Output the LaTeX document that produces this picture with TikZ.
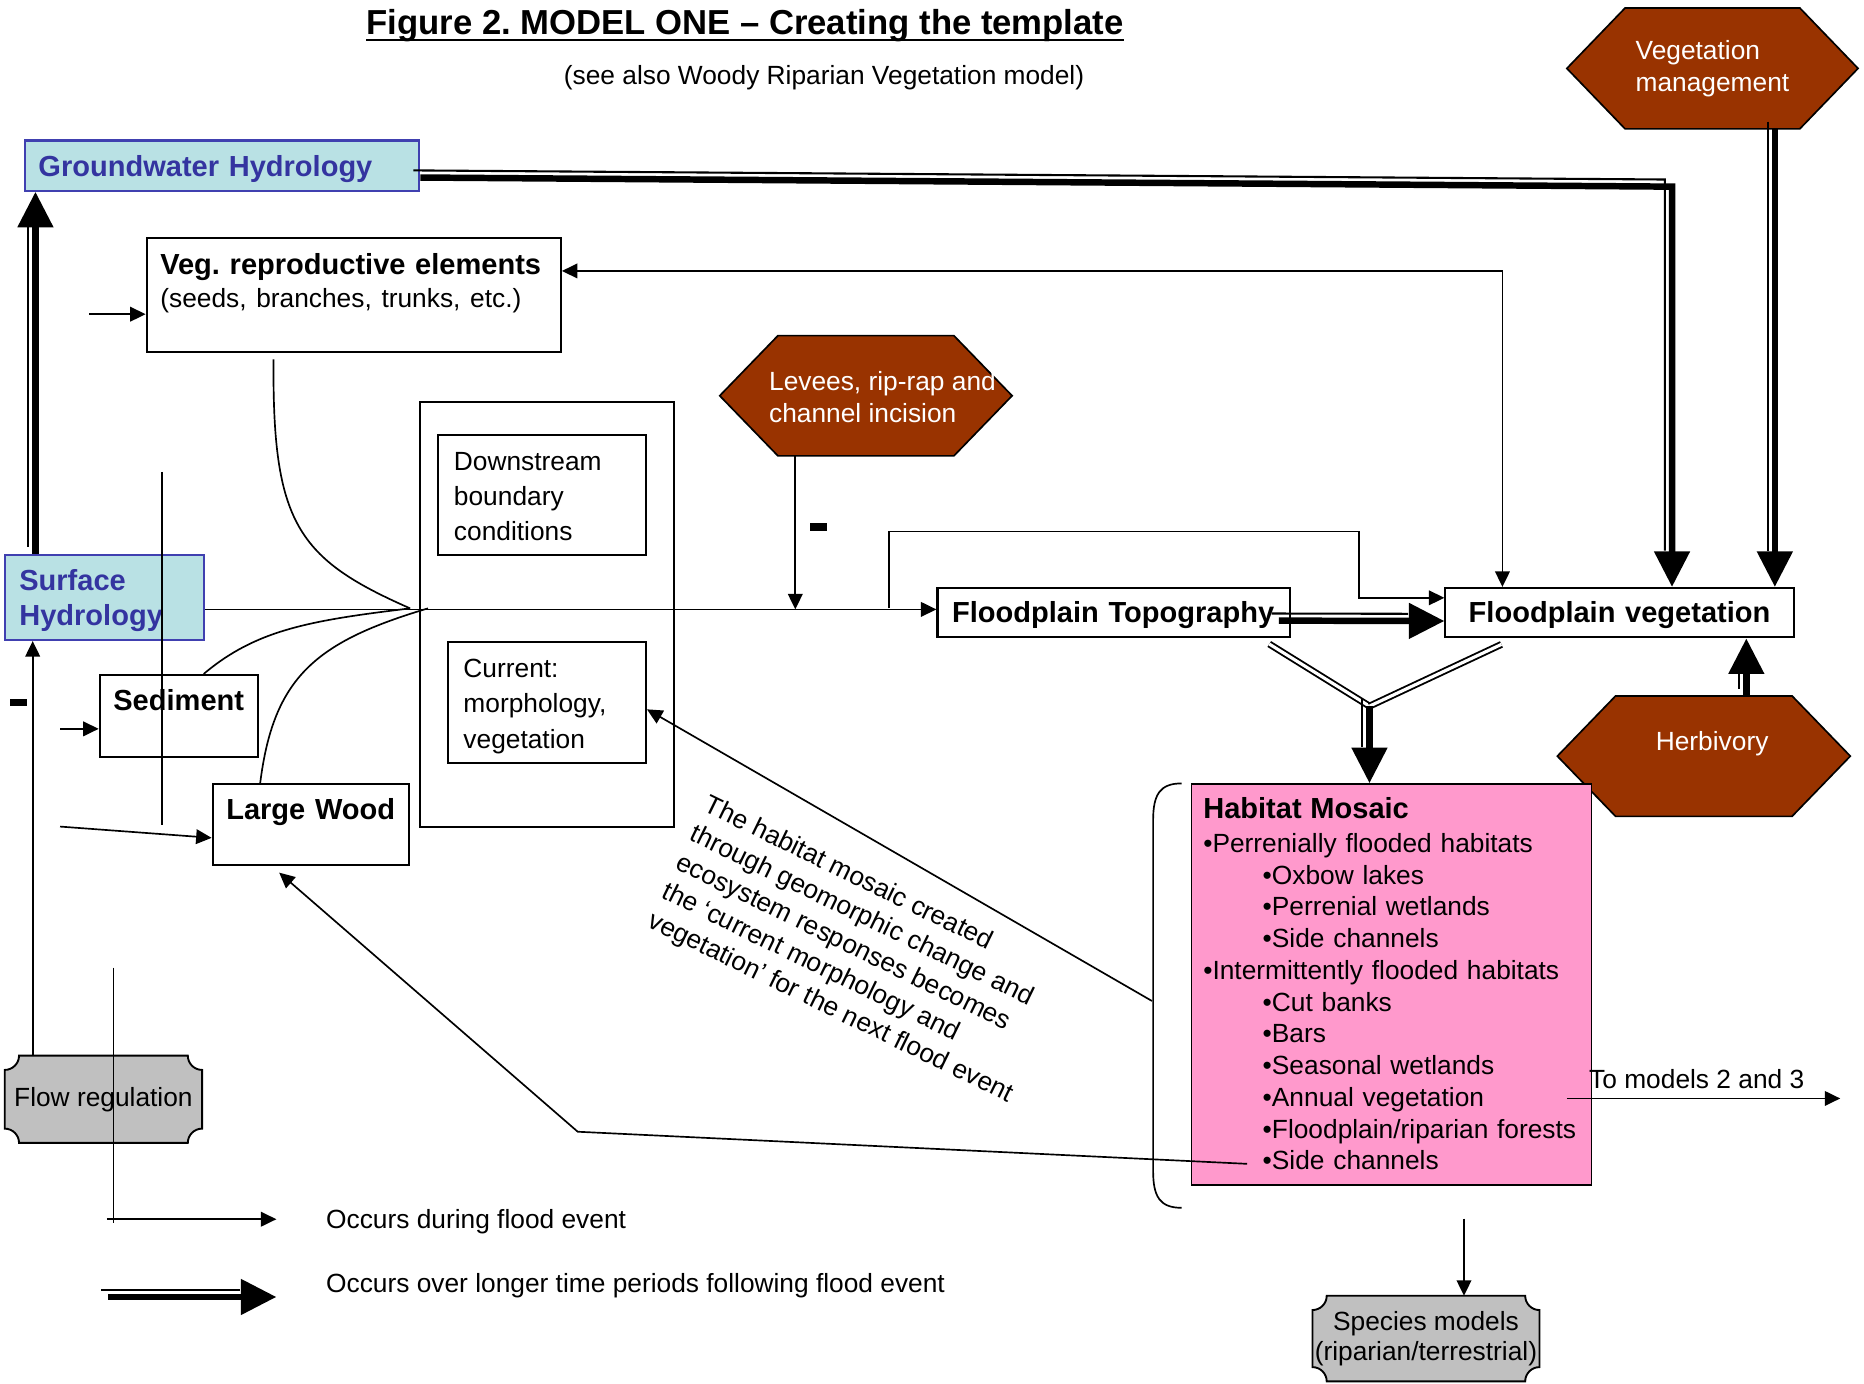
\documentclass[tikz,border=0pt]{standalone}
\usepackage{fontspec}
\setmainfont{Liberation Sans}
\usepackage{tikz}
\usetikzlibrary{arrows.meta,positioning,calc,backgrounds}
\usepackage{xcolor}
\definecolor{gwfill}{RGB}{185,225,228}
\definecolor{gwline}{RGB}{64,64,176}
\definecolor{gwtext}{RGB}{52,52,160}
\definecolor{hexfill}{RGB}{153,51,0}
\definecolor{mosfill}{RGB}{255,153,204}
\definecolor{plaqfill}{RGB}{192,192,192}
\newcommand{\regtext}{\fontsize{12.6pt}{15.2pt}\selectfont}
\newcommand{\boldtext}{\fontsize{13.9pt}{16.9pt}\selectfont\bfseries}
% brown hexagon round a node
\newcommand{\hexshape}[1]{%
  \filldraw[fill=hexfill, line width=0.8pt]
    (#1.west) -- ([xshift=0.98cm]#1.north west) -- ([xshift=-0.98cm]#1.north east)
    -- (#1.east) -- ([xshift=-0.98cm]#1.south east) -- ([xshift=0.98cm]#1.south west) -- cycle;}
% grey plaque with hollow corners
\newcommand{\plaqueshape}[1]{%
  \filldraw[fill=plaqfill, line width=0.9pt]
    ([xshift=2.4mm]#1.north west) -- ([xshift=-2.4mm]#1.north east)
    .. controls ([xshift=-2.4mm,yshift=-1.32mm]#1.north east) and ([xshift=-1.32mm,yshift=-2.4mm]#1.north east) .. ([yshift=-2.4mm]#1.north east)
    -- ([yshift=2.4mm]#1.south east)
    .. controls ([xshift=-1.32mm,yshift=2.4mm]#1.south east) and ([xshift=-2.4mm,yshift=1.32mm]#1.south east) .. ([xshift=-2.4mm]#1.south east)
    -- ([xshift=2.4mm]#1.south west)
    .. controls ([xshift=2.4mm,yshift=1.32mm]#1.south west) and ([xshift=1.32mm,yshift=2.4mm]#1.south west) .. ([yshift=2.4mm]#1.south west)
    -- ([yshift=-2.4mm]#1.north west)
    .. controls ([xshift=1.32mm,yshift=-2.4mm]#1.north west) and ([xshift=2.4mm,yshift=-1.32mm]#1.north west) .. ([xshift=2.4mm]#1.north west)
    -- cycle;}
\tikzset{
  ftip/.tip={Triangle[length=7.4pt,width=7pt]},
  btip/.tip={Triangle[length=17pt,width=16.5pt]},
  box/.style={draw, line width=1pt, inner xsep=0.23cm, inner ysep=0pt, align=left, anchor=north west, font=\regtext},
  hydro/.style={box, draw=gwline, fill=gwfill, text=gwtext, font=\boldtext},
  hexnode/.style={inner sep=0pt, outer sep=0pt, text=white, align=left, font=\regtext},
  plaqnode/.style={inner sep=0pt, outer sep=0pt, align=center, font=\regtext},
  lab/.style={inner sep=0pt, font=\regtext},
  link/.style={line width=0.8pt},
  flow/.style={line width=0.8pt, -ftip},
  longer/.style={line width=3.1pt, -btip,
    preaction={draw, line width=1pt, arrows=-, shorten >=14pt,
      transform canvas={shift={(-0.12cm,0.12cm)}}}},
  twin/.style={double, double distance=1.5pt, line width=0.9pt}
}

\begin{document}
\frenchspacing
\begin{tikzpicture}[x=0.02cm,y=-0.02cm]
\useasboundingbox (0,0) rectangle (1568,1164);

% heading
\node[lab, anchor=base west, font=\fontsize{16.6pt}{20pt}\selectfont\bfseries] (title) at (308,29) {Figure 2. MODEL ONE – Creating the template};
\draw[line width=1.1pt] ($(title.base west)+(0,4.5)$) -- ($(title.base east)+(0,4.5)$);
\node[lab, anchor=base west] (subtitle) at (474,70.8) {(see also Woody Riparian Vegetation model)};

% hydrology and inputs
\node[hydro, text width=6.18cm, text height=0.608cm, text depth=0.238cm] (gw) at (20,117.3) {Groundwater Hydrology};
\node[hydro, inner xsep=0.24cm, text width=2.862cm, text height=0.6cm, text depth=0.83cm] (surf) at (3.4,466) {Surface\\Hydrology};
\node[box, font=\boldtext, text width=6.51cm, text height=0.606cm, text depth=1.3cm] (repro) at (122.5,199.7) {Veg. reproductive elements\\[-1pt]{\regtext\mdseries (seeds, branches, trunks, etc.)}};
\node[box, font=\boldtext, text width=2.208cm, text height=0.604cm, text depth=0.772cm] (sed) at (83,566.9) {Sediment};
\node[box, font=\boldtext, text width=2.84cm, text height=0.588cm, text depth=0.776cm] (wood) at (178,658.8) {\mbox{Large Wood}};

% channel conditions
\node[box, inner sep=0pt, minimum width=4.278cm, minimum height=7.158cm] (cont) at (352.4,337.3) {};
\node[box, inner xsep=0.264cm, text width=2.966cm, text height=0.588cm, text depth=1.43cm, font={\fontsize{12.6pt}{16.8pt}\selectfont}] (down) at (367.8,365.3) {Downstream\\boundary\\conditions};
\node[box, inner xsep=0.266cm, text width=2.804cm, text height=0.6cm, text depth=1.432cm, font={\fontsize{12.6pt}{16.9pt}\selectfont}] (curr) at (375.7,539) {Current:\\morphology,\\vegetation};

% floodplain
\node[box, font=\boldtext, inner xsep=0.246cm, text width=5.434cm, text height=0.588cm, text depth=0.244cm] (topo) at (787.7,493.4) {\mbox{Floodplain Topography}};
\node[box, font=\boldtext, align=center, text width=5.4cm, text height=0.582cm, text depth=0.25cm] (veg) at (1215,493.7) {Floodplain vegetation};
\node[box, fill=mosfill, line width=0.8pt, inner xsep=0.2cm, text width=6.33cm, text height=0.58cm, text depth=6.162cm] (mos) at (1001.5,658.8) {%
  {\boldtext Habitat Mosaic}\\[1pt]
  •Perrenially flooded habitats\\
  \hspace*{1cm}•Oxbow lakes\\
  \hspace*{1cm}•Perrenial wetlands\\
  \hspace*{1cm}•Side channels\\
  •Intermittently flooded habitats\\
  \hspace*{1cm}•Cut banks\\
  \hspace*{1cm}•Bars\\
  \hspace*{1cm}•Seasonal wetlands\\
  \hspace*{1cm}•Annual vegetation\\
  \hspace*{1cm}\mbox{•Floodplain/riparian forests}\\
  \hspace*{1cm}•Side channels};

% human and grazing drivers
\node[hexnode, minimum width=4.9cm, minimum height=2.034cm] (vmg) at (1440.5,57.55) {Vegetation\\management};
\node[hexnode, minimum width=4.92cm, minimum height=2.024cm] (levee) at (728.4,332.9) {};
\node[hexnode, anchor=west] (leveetxt) at (647,334.3) {Levees, rip-rap and\\channel incision};
\node[hexnode, align=center, minimum width=4.93cm, text height=0.922cm, text depth=1.104cm] (herb) at (1433.25,636.05) {\hspace*{0.28cm}Herbivory};
\node[plaqnode, minimum width=3.32cm, minimum height=1.468cm] (flowreg) at (87,924.7) {Flow regulation};
\node[plaqnode, minimum width=3.82cm, minimum height=1.44cm, font={\fontsize{12.6pt}{14.7pt}\selectfont}] (spec) at (1199.5,1126) {Species models\\(riparian/terrestrial)};
\begin{scope}[on background layer]
  \hexshape{vmg}
  \hexshape{levee}
  \hexshape{herb}
  \plaqueshape{flowreg}
  \plaqueshape{spec}
\end{scope}

% note on the feedback
\node[lab, rotate=-26, anchor=north west, align=left, font={\fontsize{12.6pt}{15.4pt}\selectfont}] (note) at (598,667) {The habitat mosaic created\\through geomorphic change and\\ecosystem responses becomes\\the ‘current morphology and\\vegetation’ for the next flood event};

% flood event links
\coordinate (jn) at (345,511.75);
\coordinate (jn2) at (360,511.75);
\draw[link] ($(repro.south)+(-67.5,5.5)$) .. controls (229,440) and (250,470) .. (jn);
\draw[link] ($(sed.north)+(20.8,0)$) .. controls (215,530) and (260,522) .. (jn);
\draw[link] ($(wood.north)+(-42.5,0)$) .. controls (230,570) and (265,540) .. (jn2);
\draw[flow] ($(surf.east)+(0,10)$) coordinate (m0) -- (m0 -| topo.west);
\draw[flow] ($(levee.south)+(-59.4,0)$) coordinate (l0) -- (l0 |- m0);
\fill (681,440) rectangle (696,447);
\coordinate (tap) at (748,511.75);
\draw[flow] (tap) |- (1143,447) |- ($(veg.west)+(0,-12.5)$);
\draw[flow, ftip-ftip] ($(repro.east)+(0,-20.3)$) -| ($(veg.north)+(-98.5,0)$);
\coordinate (reproin) at (75,264.3);
\draw[flow] (reproin) -- (reproin -| repro.west);
\coordinate (sedin) at (50.5,613.1);
\draw[flow] (sedin) -- (sedin -| sed.west);
\coordinate (woodin) at (50.5,695.3);
\draw[flow] (woodin) -- ($(wood.west)+(0,11)$);
\draw[flow] ($(flowreg.north)+(-59.5,0)$) coordinate (f0) -- (f0 |- surf.south);
\fill (8.4,588) rectangle (22.4,594);
\draw[link] (136,397) -- (136,694);
\draw[link] (95.5,814) -- (95.5,1029);

% feedback from the mosaic
\draw[link] (994,659) .. controls (976,659) and (970,668) .. (970,690) -- (970,985) .. controls (970,1007) and (976,1016) .. (994,1016);
\coordinate (brk) at (969,842);
\draw[flow] (brk) -- ($(curr.east)+(0,6)$);
\coordinate (side) at (1049,979);
\draw[flow] (side) -- (486,952) -- ($(wood.south)+(-26.5,5.3)$);

% longer term links
\draw[longer] ($(surf.north)+(-58,0)$) coordinate (s0) -- (s0 |- gw.south);
\coordinate (gwturn) at (1406.5,157);
\draw[longer] ($(gw.east)+(0,10)$) -- (gwturn) -- (gwturn |- veg.north);
\draw[longer] ($(vmg.south)+(52.5,0)$) coordinate (v0) -- (v0 |- veg.north);
\draw[longer] ($(herb.north)+(35.75,0)$) coordinate (h0) -- (h0 |- veg.south);
\draw[longer] ($(topo.east)+(-10,7)$) -- ($(veg.west)+(0,7)$);
\coordinate (merge) at (1152,594);
\draw[twin] ($(topo.south east)+(-18,5)$) -- (merge);
\draw[twin] ($(veg.south west)+(48,5)$) -- (merge);
\draw[longer] (merge) -- (merge |- mos.north);

% onward
\coordinate (tm0) at (1318,924);
\draw[flow] (tm0) -- ++(230,0);
\node[lab, anchor=base west] (tomod) at (1336.5,916) {To models 2 and 3};
\coordinate (sp0) at (1231.5,1025);
\draw[flow] (sp0) -- (sp0 |- spec.north);

% legend
\coordinate (leg1) at (90,1025.6);
\draw[flow] (leg1) -- ++(142.5,0);
\node[lab, anchor=base west] (legtxt1) at (274,1033) {Occurs during flood event};
\coordinate (leg2) at (91,1091);
\draw[longer] (leg2) -- ++(141.5,0);
\node[lab, anchor=base west] (legtxt2) at (274,1087.5) {Occurs over longer time periods following flood event};
\end{tikzpicture}
\end{document}
